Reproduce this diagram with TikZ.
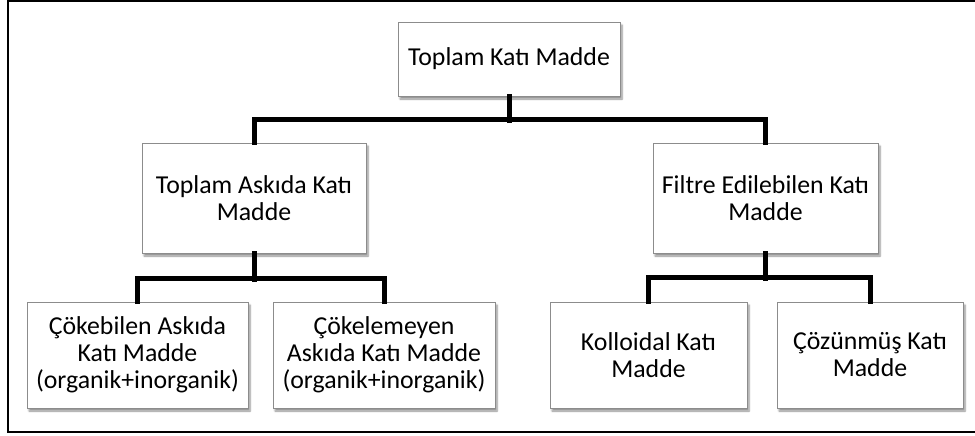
\documentclass[tikz,border=0pt]{standalone}
\usepackage{fontspec}
\setmainfont{Carlito}
\usetikzlibrary{shadows.blur}
\begin{document}
\begin{tikzpicture}[x=1pt,y=-1pt,
  box/.style={draw=black!45,line width=0.9pt,fill=white,align=center,
    inner sep=0pt,font=\fontsize{25.8}{27}\selectfont,
    blur shadow={shadow xshift=2pt,shadow yshift=-3pt,shadow blur steps=6,shadow opacity=45}},
  conn/.style={line width=5pt,line join=miter,line cap=rect}]
\useasboundingbox (0,0) rectangle (975,436);
\begin{scope}
\clip (0,0) rectangle (975,436);
\draw[line width=2pt] (8,1.5) rectangle (995,432);
\end{scope}
\node[box,minimum width=222pt,minimum height=74pt] (top) at (509,59) {Toplam Katı Madde};
\node[box,minimum width=224pt,minimum height=110pt] (ml) at (254,198) {Toplam Askıda Katı\\Madde};
\node[box,minimum width=225pt,minimum height=110pt] (mr) at (765.5,198) {Filtre Edilebilen Katı\\Madde};
\node[box,minimum width=221pt,minimum height=106pt] (b1) at (137.5,355) {Çökebilen Askıda\\Katı Madde\\(organik+inorganik)};
\node[box,minimum width=222pt,minimum height=106pt] (b2) at (384,355) {Çökelemeyen\\Askıda Katı Madde\\(organik+inorganik)};
\node[box,minimum width=197pt,minimum height=106pt] (b3) at (648.5,355) {Kolloidal Katı\\Madde};
\node[box,minimum width=186pt,minimum height=106pt] (b4) at (870,355) {Çözünmüş Katı\\Madde};
\draw[conn] (top.south) -- ++(0,24);
\draw[conn] (ml.north) -- ++(0,-23) -| (mr.north);
\draw[conn] (ml.south) -- ++(0,26);
\draw[conn] (b1.north) -- ++(0,-23) -| (b2.north);
\draw[conn] (mr.south) -- ++(0,25);
\draw[conn] (b3.north) -- ++(0,-24) -| (b4.north);
\end{tikzpicture}
\end{document}
